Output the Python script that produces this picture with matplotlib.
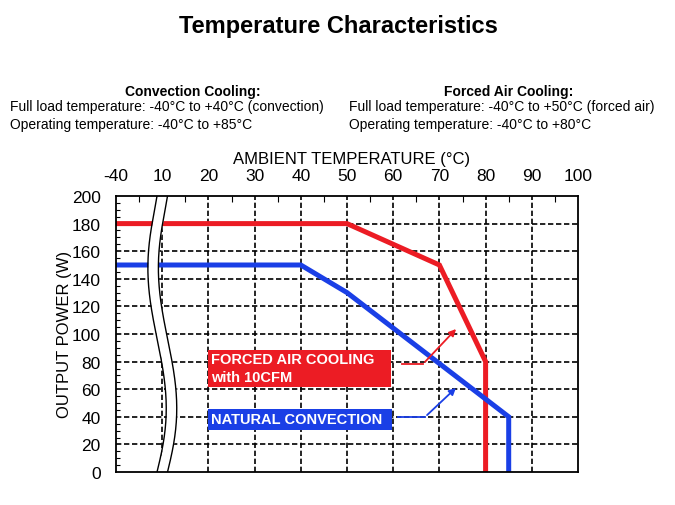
import numpy as np
import matplotlib
matplotlib.use("Agg")
import matplotlib.pyplot as plt
from matplotlib.patches import Rectangle

plt.rcParams['font.family'] = ['Liberation Sans', 'DejaVu Sans']

# ---- data ----
# x axis is broken between -40 and 10: plot position 0 stands for -40 degC
x_tick_pos = [0, 10, 20, 30, 40, 50, 60, 70, 80, 90, 100]
x_tick_labels = ['-40', '10', '20', '30', '40', '50', '60', '70', '80', '90', '100']
y_ticks = [0, 20, 40, 60, 80, 100, 120, 140, 160, 180, 200]

forced_x = [0, 50, 70, 80, 80]
forced_y = [180, 180, 150, 80, 0]
natural_x = [0, 40, 50, 85, 85]
natural_y = [150, 150, 130, 40, 0]

RED = '#EC1C24'
BLUE = '#1A3FE6'

fig = plt.figure(figsize=(6.75, 5.06), dpi=100)
W, H = 675, 506
L, R, T, B = 116, 578, 197, 473
ax = fig.add_axes([L / W, 1 - B / H, (R - L) / W, (B - T) / H])
ax.set_xlim(0, 100)
ax.set_ylim(0, 200)

def px2d(px, py):
    return (np.asarray(px) - L) / (R - L) * 100.0, (B - np.asarray(py)) / (B - T) * 200.0

# grid
for gx in range(10, 100, 10):
    ax.plot([gx, gx], [0, 200], color='black', lw=1.2, ls=(0, (3.2, 1.6)), zorder=1)
for gy in range(20, 200, 20):
    ax.plot([0, 100], [gy, gy], color='black', lw=1.2, ls=(0, (3.2, 1.6)), zorder=1)

# data lines
ax.plot(forced_x, forced_y, color=RED, lw=3.6, solid_joinstyle='miter', zorder=3)
ax.plot(natural_x, natural_y, color=BLUE, lw=3.6, solid_joinstyle='miter', zorder=3)

# axis break (decoration)
bpy = np.array([197, 225, 262, 300, 335, 370, 405, 440, 473], float)
bpx = np.array([157, 152, 148, 150, 156, 163, 166, 164, 157], float)
coef = np.polyfit(bpy, bpx, 5)
yy = np.linspace(190, 480, 200)
xl = np.polyval(coef, yy)
xr = xl + 10.5
dxl, dy = px2d(xl, yy)
dxr, _ = px2d(xr, yy)
ax.fill_betweenx(dy, dxl, dxr, color='white', zorder=4, lw=0)
ax.plot(dxl, dy, color='black', lw=1.0, zorder=5)
ax.plot(dxr, dy, color='black', lw=1.0, zorder=5)

# ticks
ax.xaxis.tick_top()
ax.set_xticks(x_tick_pos)
ax.set_xticklabels(x_tick_labels)
ax.set_xticks(np.arange(5, 100, 10), minor=True)
ax.set_yticks(y_ticks)
ax.set_yticks(np.arange(0, 201, 5), minor=True)
ax.tick_params(axis='x', which='both', direction='in', top=True, bottom=False,
               labelsize=12.5, pad=9, length=4, width=0.8)
ax.tick_params(axis='y', which='both', direction='in', left=True, right=False,
               labelsize=12.5, pad=11, length=3, width=0.8)
ax.tick_params(axis='x', which='major', length=0)
ax.tick_params(axis='y', which='major', length=0)
for s in ax.spines.values():
    s.set_linewidth(1.3)
    s.set_zorder(6)

# labels
fig.text(352 / W, 1 - 160 / H, 'AMBIENT TEMPERATURE (\u00b0C)', ha='center', va='center', fontsize=12)
fig.text(64 / W, 1 - 334 / H, 'OUTPUT POWER (W)', ha='center', va='center', rotation=90, fontsize=12)

# annotation boxes
x0, y0 = px2d(208, 388)
x1, y1 = px2d(391, 351)
ax.add_patch(Rectangle((x0, y0), x1 - x0, y1 - y0, color=RED, zorder=7, lw=0))
tx, ty = px2d(211, 360)
ax.text(tx, ty, 'FORCED AIR COOLING', color='white', fontweight='bold', fontsize=10.5,
        ha='left', va='center', zorder=8)
tx, ty = px2d(211, 378)
ax.text(tx, ty, 'with 10CFM', color='white', fontweight='bold', fontsize=10.5,
        ha='left', va='center', zorder=8)

x0, y0 = px2d(208, 431)
x1, y1 = px2d(392, 410)
ax.add_patch(Rectangle((x0, y0), x1 - x0, y1 - y0, color=BLUE, zorder=7, lw=0))
tx, ty = px2d(211, 420)
ax.text(tx, ty, 'NATURAL CONVECTION', color='white', fontweight='bold', fontsize=10.5,
        ha='left', va='center', zorder=8)

# arrows
ax_, ay_ = px2d([402, 423], [365, 365])
ax.plot(ax_, ay_, color=RED, lw=1.3, zorder=7)
tip = px2d(458, 328)
ax.annotate('', xy=tip, xytext=(ax_[1], ay_[1]),
            arrowprops=dict(arrowstyle='-|>', color=RED, lw=1.3, mutation_scale=10), zorder=7)
bx_, by_ = px2d([398, 425], [418, 418])
ax.plot(bx_, by_, color=BLUE, lw=1.3, zorder=7)
tip = px2d(458, 387)
ax.annotate('', xy=tip, xytext=(bx_[1], by_[1]),
            arrowprops=dict(arrowstyle='-|>', color=BLUE, lw=1.3, mutation_scale=10), zorder=7)

# header texts
fig.text(338 / W, 1 - 27 / H, 'Temperature Characteristics', ha='center', va='center',
         fontsize=17, fontweight='bold')
fig.text(193 / W, 1 - 92 / H, 'Convection Cooling:', ha='center', va='center',
         fontsize=10, fontweight='bold')
fig.text(10 / W, 1 - 107 / H, 'Full load temperature: -40\u00b0C to +40\u00b0C (convection)',
         ha='left', va='center', fontsize=10)
fig.text(10 / W, 1 - 125 / H, 'Operating temperature: -40\u00b0C to +85\u00b0C',
         ha='left', va='center', fontsize=10)
fig.text(509 / W, 1 - 92 / H, 'Forced Air Cooling:', ha='center', va='center',
         fontsize=10, fontweight='bold')
fig.text(349 / W, 1 - 107 / H, 'Full load temperature: -40\u00b0C to +50\u00b0C (forced air)',
         ha='left', va='center', fontsize=10)
fig.text(349 / W, 1 - 125 / H, 'Operating temperature: -40\u00b0C to +80\u00b0C',
         ha='left', va='center', fontsize=10)

fig.savefig('out.png', dpi=100)
